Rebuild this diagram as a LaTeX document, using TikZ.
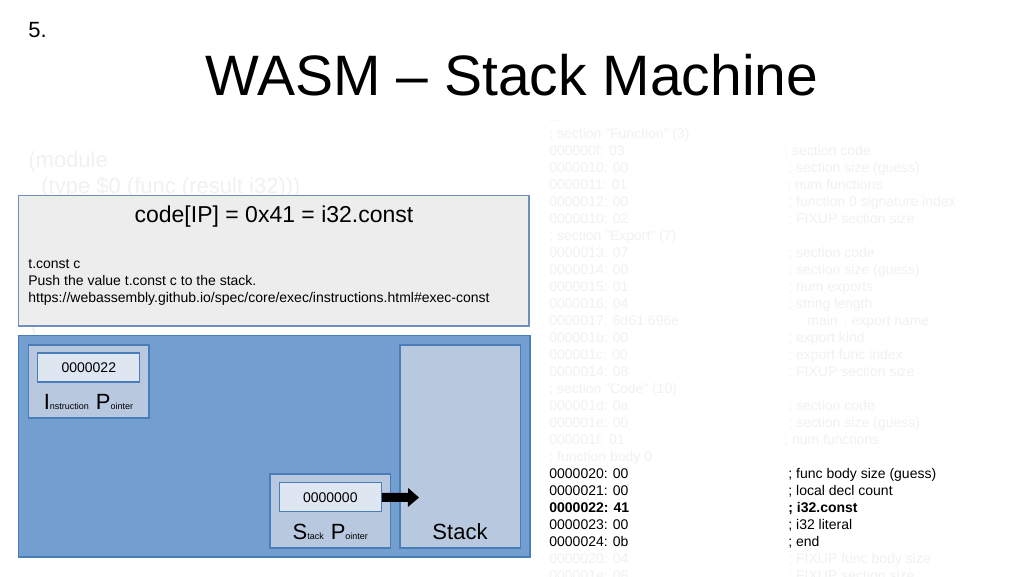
\documentclass[tikz,border=0pt]{standalone}
\usepackage{fontspec}
\setmainfont{Liberation Sans}
\usetikzlibrary{arrows.meta}

\definecolor{fadedtext}{RGB}{241,241,241}
\definecolor{panelgray}{RGB}{237,237,237}
\definecolor{paneledge}{RGB}{110,143,190}
\definecolor{panelblue}{RGB}{114,159,207}
\definecolor{regfill}{RGB}{184,200,223}
\definecolor{valfill}{RGB}{222,230,241}
\definecolor{edgeblue}{RGB}{74,126,187}

\newcommand{\fs}[1]{\fontsize{#1}{#1}\selectfont}

\tikzset{every picture/.style={line width=0.75pt}}

\begin{document}
\begin{tikzpicture}[x=1pt,y=1pt,yscale=-1,
  txt/.style={anchor=base west,inner sep=0pt},
  dump/.style={txt,font=\fs{14}},
  faded/.style={text=fadedtext},
  valbox/.style={draw=edgeblue,fill=valfill,line width=1.2pt,minimum width=102pt,minimum height=29pt,inner sep=0pt,font=\fs{14}},
  regbox/.style={draw=edgeblue,fill=regfill,line width=1.2pt}]
		\clip (0,0) rectangle (1024,576);
		\fill [white] (0,0) rectangle (1024,576);

		% slide number and title
		\draw (28,37) node [txt,font=\fs{22}] (num) {5.};
		\draw (512,95) node [anchor=base,inner sep=0pt,font=\fs{57}] (title) {WASM -- Stack Machine};

		% faded source text
		\draw (28,167) node [txt,faded,font=\fs{22}] (src1) {(module};
		\draw (41,193) node [txt,faded,font=\fs{22}] (src2) {(type \$0 (func (result i32)))};
		\draw (29,340) node [txt,faded,font=\fs{22}] (src3) {)};

		% binary dump
		\draw (549,121) node [dump,faded] (a0) {...};
		\draw (549,138) node [dump,faded] (a1) {; section "Function" (3)};
		\draw (549,155) node [dump,faded] (a2) {000000f: 03};
		\draw (784,155) node [dump,faded] (c2) {; section code};
		\draw (549,172) node [dump,faded] (a3) {0000010: 00};
		\draw (788,172) node [dump,faded] (c3) {; section size (guess)};
		\draw (549,189) node [dump,faded] (a4) {0000011: 01};
		\draw (787,189) node [dump,faded] (c4) {; num functions};
		\draw (549,206) node [dump,faded] (a5) {0000012: 00};
		\draw (788,206) node [dump,faded] (c5) {; function 0 signature index};
		\draw (549,223) node [dump,faded] (a6) {0000010: 02};
		\draw (788,223) node [dump,faded] (c6) {; FIXUP section size};
		\draw (549,240) node [dump,faded] (a7) {; section "Export" (7)};
		\draw (549,257) node [dump,faded] (a8) {0000013: 07};
		\draw (788,257) node [dump,faded] (c8) {; section code};
		\draw (549,274) node [dump,faded] (a9) {0000014: 00};
		\draw (788,274) node [dump,faded] (c9) {; section size (guess)};
		\draw (549,291) node [dump,faded] (a10) {0000015: 01};
		\draw (788,291) node [dump,faded] (c10) {; num exports};
		\draw (549,308) node [dump,faded] (a11) {0000016: 04};
		\draw (788,308) node [dump,faded] (c11) {; string length};
		\draw (549,325) node [dump,faded] (a12) {0000017: 6d61 696e};
		\draw (807,325) node [dump,faded] (c12) {main\hspace{6pt}; export name};
		\draw (549,342) node [dump,faded] (a13) {000001b: 00};
		\draw (788,342) node [dump,faded] (c13) {; export kind};
		\draw (549,359) node [dump,faded] (a14) {000001c: 00};
		\draw (788,359) node [dump,faded] (c14) {; export func index};
		\draw (549,376) node [dump,faded] (a15) {0000014: 08};
		\draw (788,376) node [dump,faded] (c15) {; FIXUP section size};
		\draw (549,393) node [dump,faded] (a16) {; section "Code" (10)};
		\draw (549,410) node [dump,faded] (a17) {000001d: 0a};
		\draw (788,410) node [dump,faded] (c17) {; section code};
		\draw (549,427) node [dump,faded] (a18) {000001e: 00};
		\draw (788,427) node [dump,faded] (c18) {; section size (guess)};
		\draw (549,444) node [dump,faded] (a19) {000001f: 01};
		\draw (784,444) node [dump,faded] (c19) {; num functions};
		\draw (549,461) node [dump,faded] (a20) {; function body 0};
		\draw (549,478) node [dump] (a21) {0000020: 00};
		\draw (788,478) node [dump] (c21) {; func body size (guess)};
		\draw (549,495) node [dump] (a22) {0000021: 00};
		\draw (788,495) node [dump] (c22) {; local decl count};
		\draw (549,512) node [dump,font=\fs{14}\bfseries] (a23) {0000022: 41};
		\draw (788,512) node [dump,font=\fs{14}\bfseries] (c23) {; i32.const};
		\draw (549,529) node [dump] (a24) {0000023: 00};
		\draw (788,529) node [dump] (c24) {; i32 literal};
		\draw (549,546) node [dump] (a25) {0000024: 0b};
		\draw (788,546) node [dump] (c25) {; end};
		\draw (549,563) node [dump,faded] (a26) {0000020: 04};
		\draw (788,563) node [dump,faded] (c26) {; FIXUP func body size};
		\draw (549,580) node [dump,faded] (a27) {000001e: 06};
		\draw (788,580) node [dump,faded] (c27) {; FIXUP section size};

		% instruction panel
		\draw [draw=paneledge,fill=panelgray,line width=1.2pt] (18.5,195.5) rectangle (529,326);
		\draw (274,222) node [anchor=base,inner sep=0pt,font=\fs{23}] (instr) {code[IP] = 0x41 = i32.const};
		\draw (28,268) node [dump] (d1) {t.const c};
		\draw (28,285) node [dump] (d2) {Push the value t.const c to the stack.};
		\draw (28,302) node [dump] (d3) {https://webassembly.github.io/spec/core/exec/instructions.html\#exec-const};

		% machine
		\draw [draw=edgeblue,fill=panelblue,line width=1.5pt] (18.5,335.5) rectangle (530,557);
		\draw [regbox] (28.5,345) rectangle (149,418);
		\draw [regbox] (270,474) rectangle (390.5,548);
		\draw [regbox] (400,345) rectangle (520.5,548);

		\node [valbox] (ipval) at (88.8,367.5) {0000022};
		\node [valbox] (spval) at (330.3,497.3) {0000000};
		\draw (88.5,409) node [anchor=base,inner sep=0pt] (iplabel) {{\fs{22}I}{\fs{9}nstruction}\hspace{7pt}{\fs{22}P}{\fs{9}ointer}};
		\draw (330.3,539) node [anchor=base,inner sep=0pt] (splabel) {{\fs{22}S}{\fs{9}tack}\hspace{7pt}{\fs{22}P}{\fs{9}ointer}};
		\draw (460,539) node [anchor=base,inner sep=0pt,font=\fs{22}] (stack) {Stack};

		\coordinate (sptip) at (419,497.5);
		\draw [line width=9pt,-{Triangle[length=11pt,width=19pt,line width=0pt]}] (spval.east) -- (sptip);
\end{tikzpicture}
\end{document}
